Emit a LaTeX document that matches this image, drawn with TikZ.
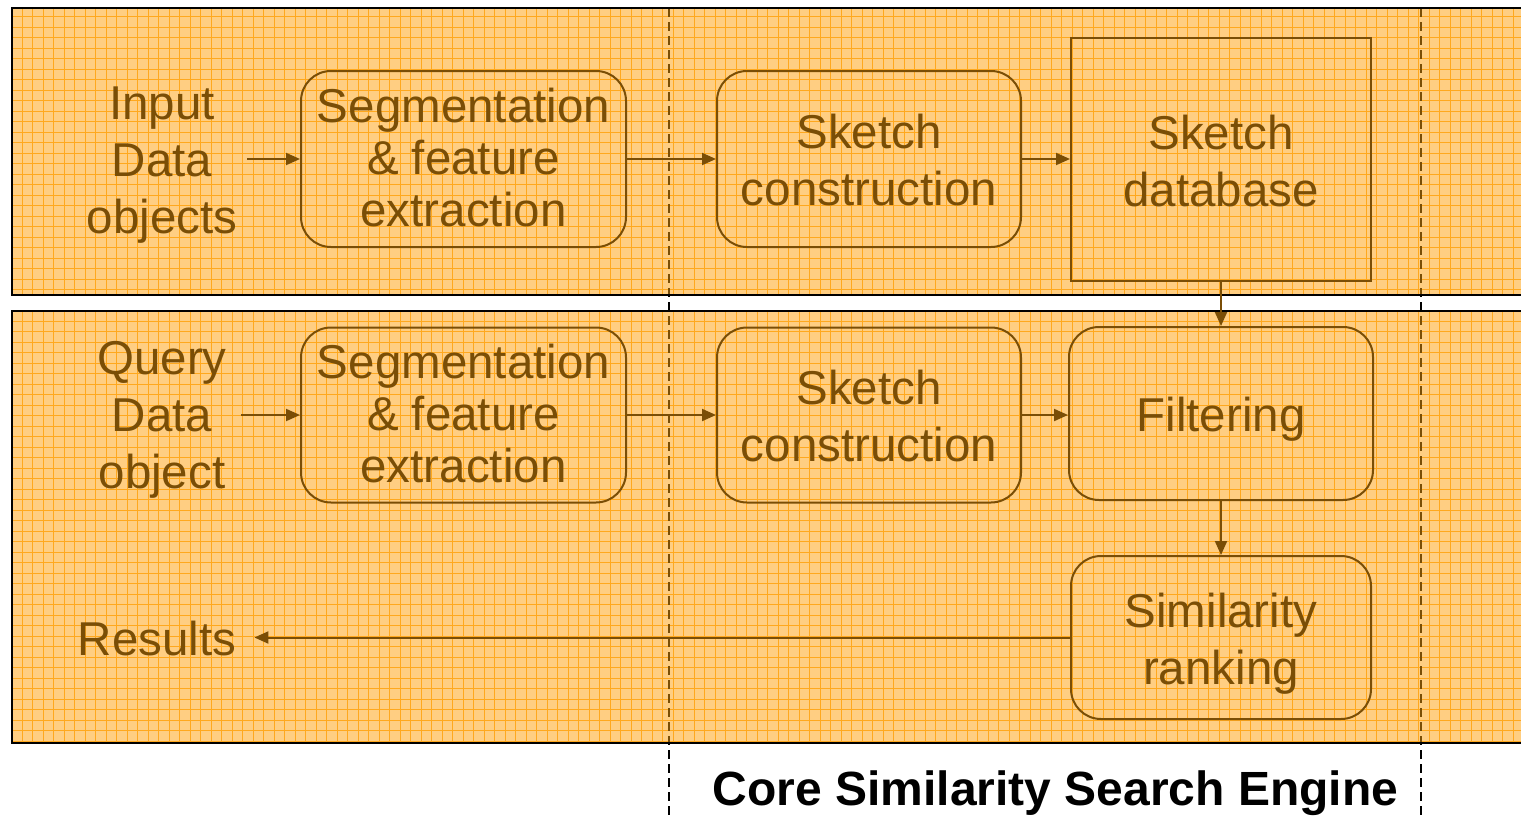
\documentclass[tikz,border=0pt]{standalone}
\usepackage{fontspec}
\setmainfont{Liberation Sans}
\usetikzlibrary{arrows.meta}
\definecolor{bandfill}{RGB}{255,206,130}
\definecolor{gridline}{RGB}{255,168,30}
\definecolor{brownink}{RGB}{122,78,6}
% #1 = downward shift, #2 = line spacing, #3 = lines
\newcommand{\boxtext}[3]{\raisebox{-#1}[\height][\depth]{\fontsize{47.5}{#2}\selectfont\begin{tabular}{@{}c@{}}#3\end{tabular}}}
\tikzset{
  stepbox/.style={draw=brownink, line width=2pt, rounded corners=30pt, inner sep=0pt, text=brownink},
  dbbox/.style={draw=brownink, line width=2pt, inner sep=0pt, text=brownink},
  label/.style={text=brownink},
  conn/.style={draw=brownink, line width=2pt, -{Triangle[length=14pt,width=12pt]}},
  border/.style={draw=black, line width=2.5pt},
  sep/.style={line width=2pt, dash pattern=on 9pt off 5pt}
}
\begin{document}
\begin{tikzpicture}[x=1pt,y=-1pt]
\useasboundingbox (0,0) rectangle (1521,819);
% bands
\fill[bandfill] (12,8) rectangle (1525,295);
\fill[bandfill] (12,311) rectangle (1525,743);
\begin{scope}
  \clip (12,8) rectangle (1525,295) (12,311) rectangle (1525,743);
  \foreach \x in {22,32.5,...,1525} \draw[gridline, line width=0.9pt] (\x,8) -- (\x,743);
  \foreach \y in {16.5,27,...,743} \draw[gridline, line width=0.9pt] (12,\y) -- (1525,\y);
\end{scope}
% separator dashed lines
\draw[sep, black] (669,8) -- (669,815);
\draw[sep, black] (1421,8) -- (1421,819);
\begin{scope}
  \clip (12,8) rectangle (1525,295) (12,311) rectangle (1525,743);
  \draw[sep, brownink] (669,8) -- (669,815);
  \draw[sep, brownink] (1421,8) -- (1421,819);
\end{scope}
% borders
\draw[border] (1525,8) -- (12,8) -- (12,295) -- (1525,295);
\draw[border] (1525,311) -- (12,311) -- (12,743) -- (1525,743);
% row 1
\node[label, inner sep=10pt] (input) at (162,159) {\boxtext{5.6pt}{57}{Input\\Data\\objects}};
\node[stepbox, minimum width=325pt, minimum height=176pt] (seg1) at (463.5,159) {\boxtext{5pt}{52}{Segmentation\\\& feature\\extraction}};
\node[stepbox, minimum width=304pt, minimum height=176pt] (sk1) at (869,159) {\boxtext{7pt}{57}{Sketch\\construction}};
\node[dbbox, minimum width=300pt, minimum height=243pt] (db) at (1221,159.5) {\boxtext{6.6pt}{57}{Sketch\\database}};
% row 2
\node[label, inner sep=14pt] (query) at (162,415) {\boxtext{4.6pt}{57}{Query\\Data\\object}};
\node[stepbox, minimum width=325pt, minimum height=175pt] (seg2) at (463.5,415) {\boxtext{5pt}{52}{Segmentation\\\& feature\\extraction}};
\node[stepbox, minimum width=304pt, minimum height=175pt] (sk2) at (869,415) {\boxtext{7pt}{57}{Sketch\\construction}};
\node[stepbox, minimum width=304pt, minimum height=173pt] (filt) at (1221,413.5) {\boxtext{7pt}{57}{Filtering}};
\node[stepbox, minimum width=300pt, minimum height=163pt] (sim) at (1221,637.5) {\boxtext{6.6pt}{57}{Similarity\\ranking}};
\node[label, inner sep=18pt] (res) at (157,637.5) {\boxtext{7pt}{57}{Results}};
% connectors
\draw[conn] (input.east) -- (seg1.west);
\draw[conn] (seg1.east) -- (sk1.west);
\draw[conn] (sk1.east) -- (db.west |- sk1.east);
\draw[conn] (db.south) -- (filt.north);
\draw[conn] (query.east) -- (seg2.west);
\draw[conn] (seg2.east) -- (sk2.west);
\draw[conn] (sk2.east) -- (filt.west |- sk2.east);
\draw[conn] (filt.south) -- (sim.north);
\draw[conn] (sim.west) -- (res.east);
% title
\node[font=\bfseries\fontsize{48}{57}\selectfont, text=black, inner sep=0pt, anchor=base] (title) at (1055.5,805) {Core Similarity Search Engine};
\end{tikzpicture}
\end{document}
